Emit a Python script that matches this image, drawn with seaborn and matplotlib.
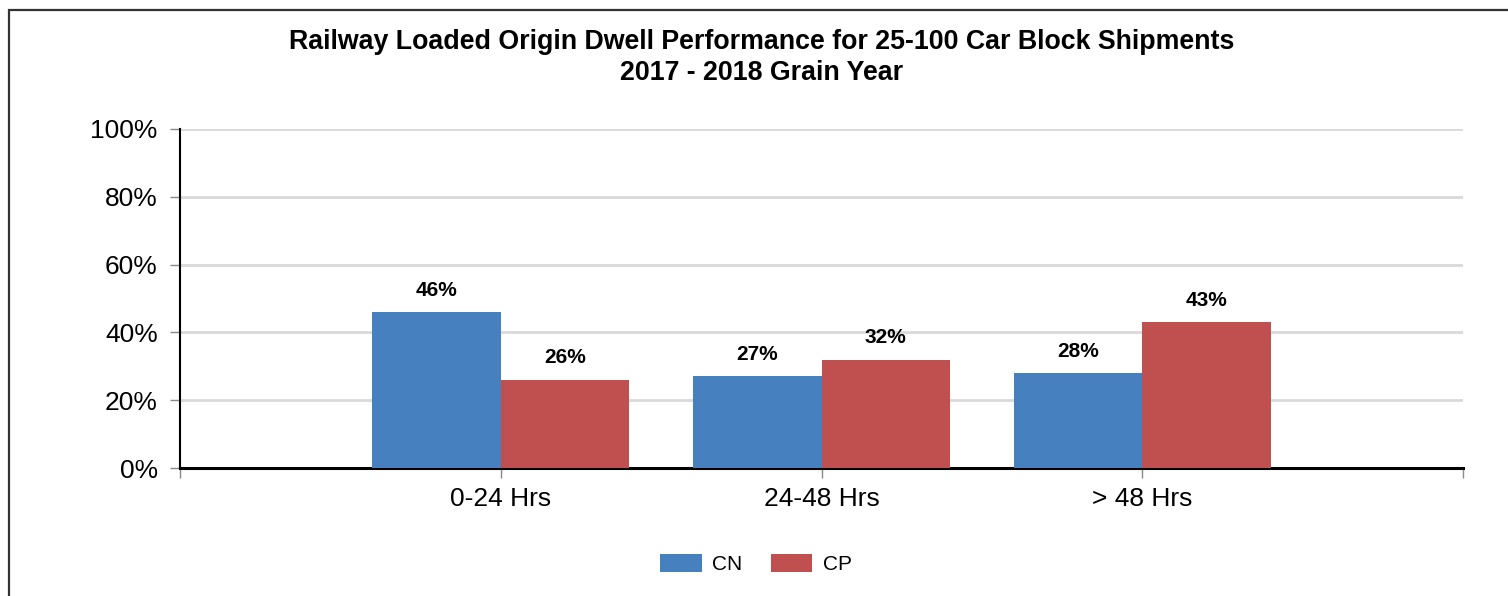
"""Grouped bar chart of loaded origin dwell performance, CN vs CP."""

import matplotlib

matplotlib.use("Agg")

import matplotlib.pyplot as plt
import pandas as pd
import seaborn as sns
from matplotlib.patches import Rectangle

categories = ["0-24 Hrs", "24-48 Hrs", "> 48 Hrs"]
railways = ["CN", "CP"]
cn_values = [46, 27, 28]
cp_values = [26, 32, 43]
y_ticks = [0, 20, 40, 60, 80, 100]

COLORS = {"CN": "#4680bf", "CP": "#c04f4f"}

data = pd.DataFrame(
    {
        "category": categories * 2,
        "railway": ["CN"] * len(categories) + ["CP"] * len(categories),
        "value": cn_values + cp_values,
    }
)

sns.set_theme(style="white")
plt.rcParams["font.family"] = ["Liberation Sans", "DejaVu Sans"]

fig = plt.figure(figsize=(15.08, 5.96), dpi=100)
ax = fig.add_axes([180 / 1508, 1 - 468 / 596, (1463 - 180) / 1508, (468 - 129) / 596])

sns.barplot(
    data=data,
    x="category",
    y="value",
    hue="railway",
    order=categories,
    hue_order=railways,
    palette=COLORS,
    width=0.8,
    saturation=1,
    linewidth=0,
    ax=ax,
    zorder=3,
)

for container in ax.containers:
    ax.bar_label(container, labels=[f"{v:.0f}%" for v in container.datavalues],
                 padding=9, fontsize=15, fontweight="bold", color="#000000")

ax.set_ylim(0, 100)
ax.set_yticks(y_ticks)
ax.set_yticklabels([f"{t}%" for t in y_ticks], fontsize=19, color="#000000")
ax.set_xlim(-1, len(categories))
ax.set_xticks(range(-1, len(categories) + 1))
ax.set_xticklabels([""] + categories + [""], fontsize=19, color="#000000")
ax.set_xlabel("")
ax.set_ylabel("")

ax.grid(axis="y", color="#d9d9d9", linewidth=2, zorder=0)
ax.grid(axis="x", visible=False)
for side in ["top", "right"]:
    ax.spines[side].set_visible(False)
ax.spines["left"].set_color("#000000")
ax.spines["left"].set_linewidth(1.5)
ax.spines["bottom"].set_color("#000000")
ax.spines["bottom"].set_linewidth(2.2)
ax.tick_params(axis="y", which="major", left=True, length=7, width=1, color="#888888", pad=9)
ax.tick_params(axis="x", which="major", bottom=True, length=7, width=1, color="#888888", pad=7)

legend = ax.legend(
    loc="center",
    bbox_to_anchor=(756 / 1508, 1 - 564 / 596),
    bbox_transform=fig.transFigure,
    ncol=2,
    frameon=False,
    fontsize=15,
    handlelength=2.0,
    handleheight=1.0,
    handletextpad=0.5,
    columnspacing=1.35,
)
for text in legend.get_texts():
    text.set_color("#000000")

fig.text(762 / 1508, 1 - 42 / 596, "Railway Loaded Origin Dwell Performance for 25-100 Car Block Shipments",
         ha="center", va="center", fontsize=19.3, fontweight="bold", color="#000000")
fig.text(762 / 1508, 1 - 73 / 596, "2017 - 2018 Grain Year",
         ha="center", va="center", fontsize=19.3, fontweight="bold", color="#000000")

# outer frame, runs off the right and bottom edges like the source
fig.patches.append(Rectangle((9 / 1508, -0.2), 1.2, 1.2 - 10 / 596, transform=fig.transFigure,
                             fill=False, edgecolor="#333333", linewidth=1.6))

fig.savefig("out.png", dpi=100)
